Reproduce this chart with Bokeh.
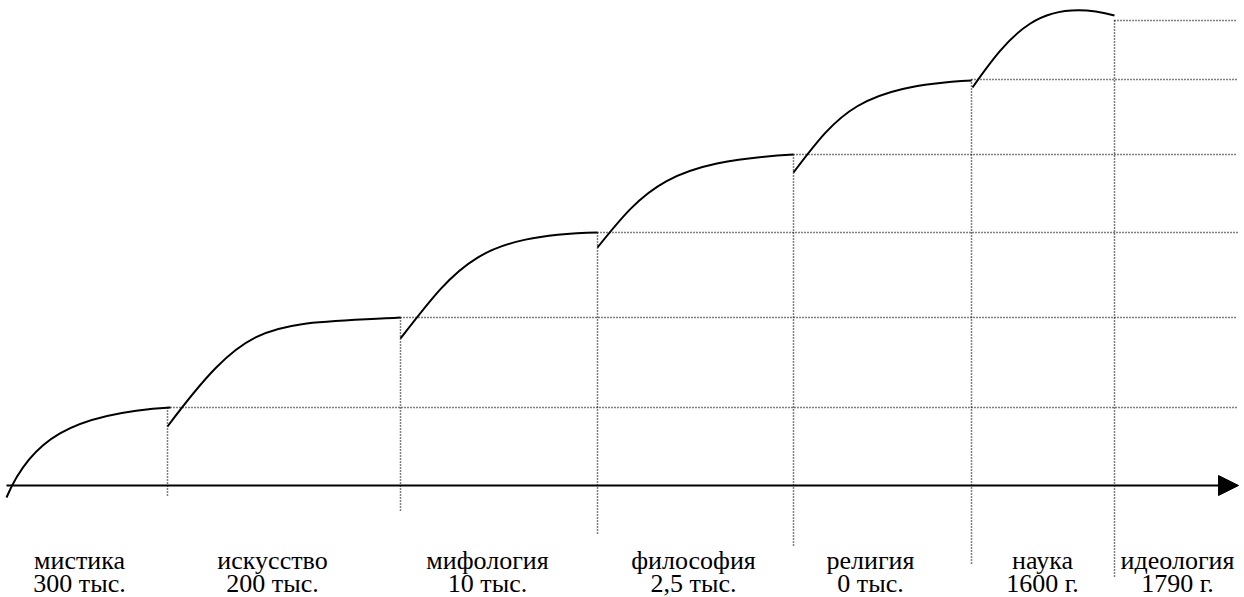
from bokeh.plotting import figure
from bokeh.models import Range1d, Arrow, NormalHead, ColumnDataSource
from bokeh.core.properties import value
from bokeh.embed import file_html
from bokeh.resources import INLINE

# ---- data (timeline position in px-like units, level upward from the time axis) ----
stages = ["мистика", "искусство", "мифология", "философия", "религия", "наука", "идеология"]
dates = ["300 тыс.", "200 тыс.", "10 тыс.", "2,5 тыс.", "0 тыс.", "1600 г.", "1790 г."]

boundary_x = [167, 400, 597, 793, 971, 1114]     # transitions between stages
level_end = [78, 168, 253, 331, 406, 465]        # level reached at each transition
drop_y = [-11, -27, -48, -62, -78, -92]          # lower end of each dotted marker

# each growth curve: start point, two control points, end point (cubic Bezier)
seg_x0 = [6, 167, 400, 597, 793, 972]
seg_y0 = [-12, 59, 147, 238, 313, 398]
seg_cx0 = [30, 250, 458, 645, 838, 1010]
seg_cy0 = [45, 170, 222, 298, 372, 452]
seg_cx1 = [70, 265, 478, 668, 857, 1040]
seg_cy1 = [72, 160, 250, 324, 399, 490]
seg_x1 = [170, 400, 597, 793, 971, 1114]
seg_y1 = [78, 168, 253, 331, 405, 470]

axis_start, axis_end = 6, 1238
grid_right = 1237

# ---- layout ----
label_x = [79, 272, 487, 693, 870, 1042, 1177]
name_y = -75
date_y = -98

W, H = 1244, 597
p = figure(width=W, height=H, output_backend="svg", toolbar_location=None,
           x_range=Range1d(0, W), y_range=Range1d(-112, 485),
           min_border=0, min_border_left=0, min_border_right=0,
           min_border_top=0, min_border_bottom=0)
p.axis.visible = False
p.grid.visible = False
p.outline_line_color = None
p.background_fill_color = "white"
p.border_fill_color = "white"

# horizontal dotted levels
p.segment(x0=boundary_x, y0=level_end, x1=[grid_right] * len(boundary_x), y1=level_end,
          line_color="black", line_width=1.5, line_dash="1 2")
# vertical dotted markers
p.segment(x0=boundary_x, y0=level_end, x1=boundary_x, y1=drop_y,
          line_color="black", line_width=1.5, line_dash="1 2")

# growth curves
src = ColumnDataSource(dict(x0=seg_x0, y0=seg_y0, x1=seg_x1, y1=seg_y1,
                            cx0=seg_cx0, cy0=seg_cy0, cx1=seg_cx1, cy1=seg_cy1))
p.bezier(x0="x0", y0="y0", x1="x1", y1="y1", cx0="cx0", cy0="cy0", cx1="cx1", cy1="cy1",
         source=src, line_color="black", line_width=2)

# time axis with arrow
p.add_layout(Arrow(end=NormalHead(size=20, fill_color="black", line_color="black"),
                   x_start=axis_start, y_start=0, x_end=axis_end, y_end=0,
                   line_color="black", line_width=2))

# labels
p.text(x=label_x, y=[name_y] * len(stages), text=stages,
       text_align="center", text_baseline="alphabetic",
       text_font=value("Liberation Serif"), text_font_size="26px", text_color="black")
p.text(x=label_x, y=[date_y] * len(dates), text=dates,
       text_align="center", text_baseline="alphabetic",
       text_font=value("Liberation Serif"), text_font_size="26px", text_color="black")

open("out.html", "w").write(file_html(p, INLINE))
